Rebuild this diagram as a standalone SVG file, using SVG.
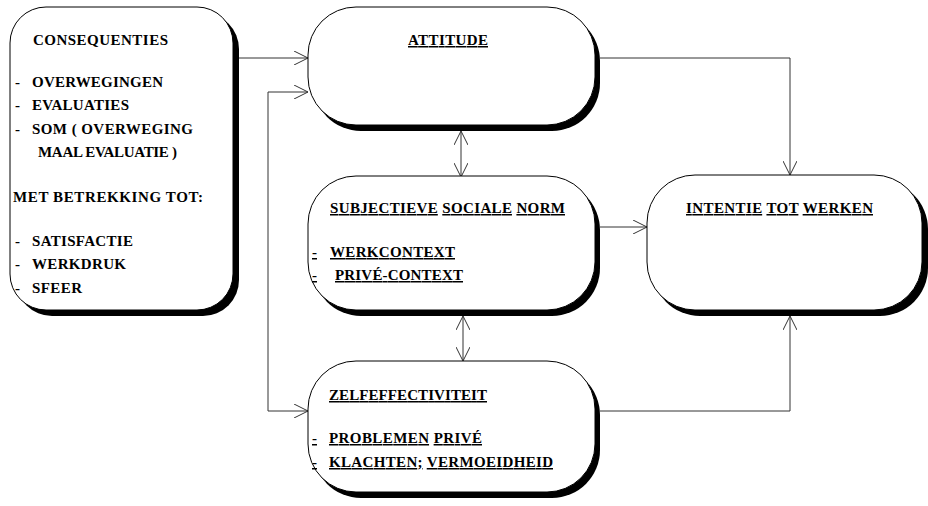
<svg xmlns="http://www.w3.org/2000/svg" width="928" height="506" viewBox="0 0 928 506" font-family="Liberation Serif, serif" font-weight="bold" font-size="15">
<defs>
  <marker id="arrow" viewBox="0 0 14 14" refX="14" refY="7" markerWidth="14" markerHeight="14" orient="auto-start-reverse" markerUnits="userSpaceOnUse">
    <path d="M0,0 L14,7 L0,14" fill="none" stroke="#333" stroke-width="1"/>
  </marker>
</defs>
<rect width="928" height="506" fill="#ffffff"/>

<g id="edges" fill="none" stroke="#333" stroke-width="1">
  <path d="M233,58 H308" marker-end="url(#arrow)"/>
  <path d="M308,92 H268 V411 H308" marker-start="url(#arrow)" marker-end="url(#arrow)"/>
  <path d="M600,58 H790 V175" marker-end="url(#arrow)"/>
  <path d="M600,227 H647" marker-end="url(#arrow)"/>
  <path d="M600,411 H790 V316" marker-end="url(#arrow)"/>
  <path d="M461,131 V177" marker-start="url(#arrow)" marker-end="url(#arrow)"/>
  <path d="M463,316 V361" marker-start="url(#arrow)" marker-end="url(#arrow)"/>
</g>

<g id="node-consequenties">
  <rect x="16" y="13" width="223" height="303" rx="36" ry="36" fill="#000"/>
  <rect x="10" y="7" width="223" height="303" rx="36" ry="36" fill="#fff" stroke="#000"/>
  <text font-family="Liberation Serif" x="33" y="45" textLength="135" lengthAdjust="spacing">CONSEQUENTIES</text>
  <text font-family="Liberation Serif" x="15" y="87">-</text>
  <text font-family="Liberation Serif" x="32" y="87" textLength="131" lengthAdjust="spacing">OVERWEGINGEN</text>
  <text font-family="Liberation Serif" x="15" y="110">-</text>
  <text font-family="Liberation Serif" x="32" y="110" textLength="97" lengthAdjust="spacing">EVALUATIES</text>
  <text font-family="Liberation Serif" x="15" y="134">-</text>
  <text font-family="Liberation Serif" x="32" y="134" textLength="161" lengthAdjust="spacing">SOM ( OVERWEGING</text>
  <text font-family="Liberation Serif" x="38" y="157" textLength="139" lengthAdjust="spacing">MAAL EVALUATIE )</text>
  <text font-family="Liberation Serif" x="13" y="202" textLength="190" lengthAdjust="spacing">MET BETREKKING TOT:</text>
  <text font-family="Liberation Serif" x="15" y="246">-</text>
  <text font-family="Liberation Serif" x="32" y="246" textLength="101" lengthAdjust="spacing">SATISFACTIE</text>
  <text font-family="Liberation Serif" x="15" y="269">-</text>
  <text font-family="Liberation Serif" x="32" y="269" textLength="94" lengthAdjust="spacing">WERKDRUK</text>
  <text font-family="Liberation Serif" x="15" y="293">-</text>
  <text font-family="Liberation Serif" x="32" y="293" textLength="50" lengthAdjust="spacing">SFEER</text>
</g>

<g id="node-attitude">
  <rect x="313" y="13" width="287" height="118" rx="48" ry="48" fill="#000"/>
  <rect x="308" y="7" width="287" height="118" rx="48" ry="48" fill="#fff" stroke="#000"/>
  <text font-family="Liberation Serif" x="408" y="45" text-decoration="underline" textLength="80" lengthAdjust="spacing">ATTITUDE</text>
</g>

<g id="node-norm">
  <rect x="313" y="182" width="287" height="134" rx="48" ry="48" fill="#000"/>
  <rect x="308" y="176" width="287" height="134" rx="48" ry="48" fill="#fff" stroke="#000"/>
  <text font-family="Liberation Serif" x="330" y="213" textLength="235" lengthAdjust="spacing"><tspan text-decoration="underline">SUBJECTIEVE</tspan> <tspan text-decoration="underline">SOCIALE</tspan> <tspan text-decoration="underline">NORM</tspan></text>
  <text font-family="Liberation Serif" x="312" y="257" text-decoration="underline">-</text>
  <text font-family="Liberation Serif" x="330" y="257" text-decoration="underline" textLength="125" lengthAdjust="spacing">WERKCONTEXT</text>
  <text font-family="Liberation Serif" x="312" y="280" text-decoration="underline">-</text>
  <text font-family="Liberation Serif" x="335" y="280" text-decoration="underline" textLength="128" lengthAdjust="spacing">PRIVÉ-CONTEXT</text>
</g>

<g id="node-zelfeffectiviteit">
  <rect x="313" y="367" width="287" height="131" rx="48" ry="48" fill="#000"/>
  <rect x="308" y="361" width="287" height="131" rx="48" ry="48" fill="#fff" stroke="#000"/>
  <text font-family="Liberation Serif" x="329" y="400" text-decoration="underline" textLength="158" lengthAdjust="spacing">ZELFEFFECTIVITEIT</text>
  <text font-family="Liberation Serif" x="312" y="443" text-decoration="underline">-</text>
  <text font-family="Liberation Serif" x="329" y="443" textLength="153" lengthAdjust="spacing"><tspan text-decoration="underline">PROBLEMEN</tspan> <tspan text-decoration="underline">PRIVÉ</tspan></text>
  <text font-family="Liberation Serif" x="312" y="467" text-decoration="underline">-</text>
  <text font-family="Liberation Serif" x="329" y="467" textLength="224" lengthAdjust="spacing"><tspan text-decoration="underline">KLACHTEN;</tspan> <tspan text-decoration="underline">VERMOEIDHEID</tspan></text>
</g>

<g id="node-intentie">
  <rect x="652" y="181" width="276" height="135" rx="48" ry="48" fill="#000"/>
  <rect x="647" y="175" width="275" height="135" rx="48" ry="48" fill="#fff" stroke="#000"/>
  <text font-family="Liberation Serif" x="686" y="213" textLength="187" lengthAdjust="spacing"><tspan text-decoration="underline">INTENTIE</tspan> <tspan text-decoration="underline">TOT</tspan> <tspan text-decoration="underline">WERKEN</tspan></text>
</g>
</svg>
